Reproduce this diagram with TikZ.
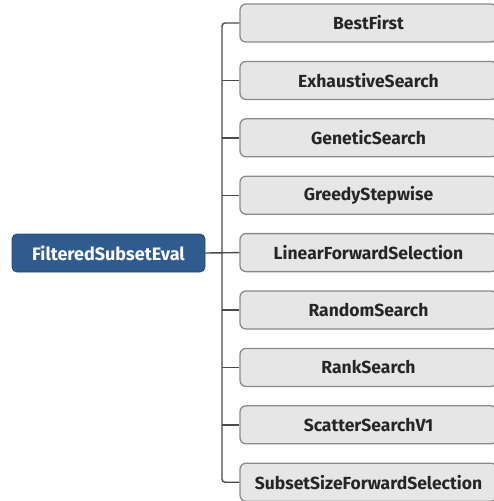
\documentclass[tikz,border=0pt]{standalone}
\usepackage{fontspec}
\setmainfont{Fira Sans}
\definecolor{rootblue}{HTML}{2F5B8E}
\definecolor{leafgray}{HTML}{E6E6E6}
\definecolor{leafline}{HTML}{8A8A8A}
\definecolor{linkgray}{HTML}{4A4A4A}
\begin{document}
\begin{tikzpicture}[x=1pt,y=-1pt,
  rootbox/.style={draw=rootblue!80!black,fill=rootblue,rounded corners=5pt,text=white,font=\bfseries\fontsize{18}{20}\selectfont,minimum width=193pt,minimum height=38pt,line width=0.8pt,inner sep=0pt},
  leafbox/.style={draw=leafline,fill=leafgray,rounded corners=6pt,text=black!85,font=\bfseries\fontsize{17.5}{20}\selectfont,minimum width=257pt,minimum height=38pt,line width=1.3pt,inner sep=0pt},
  link/.style={draw=linkgray,line width=1.4pt}]
\useasboundingbox (0,0) rectangle (494,501);
\begin{scope}
\clip (0,0) rectangle (494,501);
\node[rootbox] (root) at (108.5,253) {FilteredSubsetEval};
\coordinate (trunk) at (222,253);
\foreach \i/\t in {0/BestFirst,1/ExhaustiveSearch,2/GeneticSearch,3/GreedyStepwise,4/LinearForwardSelection,5/RandomSearch,6/RankSearch,7/ScatterSearchV1,8/SubsetSizeForwardSelection}{
  \node[leafbox] (n\i) at (368.5,{23+57.4*\i}) {\t};
}
\draw[link] (root.east) -- (n4.west);
\draw[link,rounded corners=3pt] (n0.west) -| (trunk) |- (n8.west);
\foreach \i in {1,2,3,5,6,7}{
  \draw[link] (n\i.west) -- (trunk |- n\i.west);
}
\end{scope}
\end{tikzpicture}
\end{document}
